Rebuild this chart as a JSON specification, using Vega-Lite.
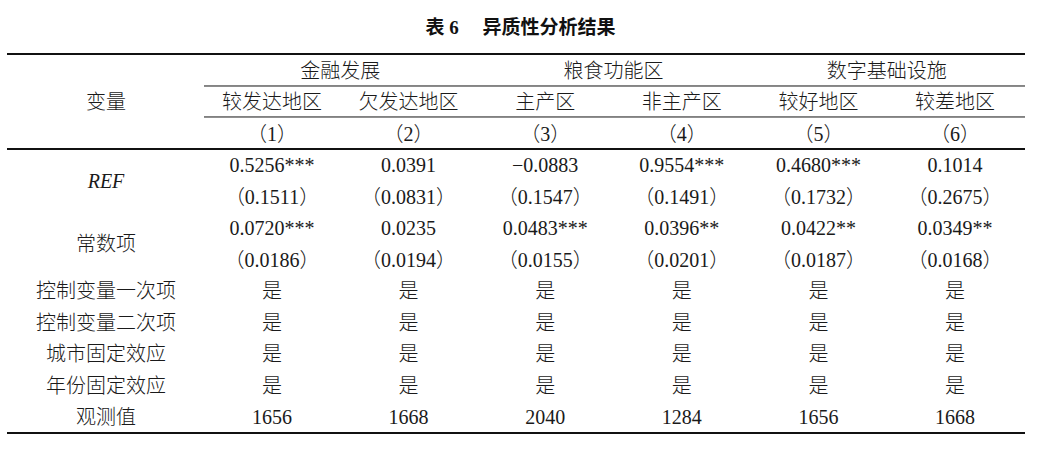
{
  "$schema": "https://vega.github.io/schema/vega-lite/v6.json",
  "width": 1053,
  "height": 463,
  "autosize": {"type": "fit", "contains": "padding"},
  "padding": 0,
  "background": "white",
  "config": {"view": {"stroke": null}},
  "datasets": {
    "cells": [
      {"r": -1.4, "c": 2.82, "t": "表 6　 异质性分析结果", "kind": "title"},
      {"r": 0, "c": 1.5, "t": "金融发展", "kind": "body"},
      {"r": 0, "c": 3.5, "t": "粮食功能区", "kind": "body"},
      {"r": 0, "c": 5.5, "t": "数字基础设施", "kind": "body"},
      {"r": 1, "c": 0, "t": "变量", "kind": "body"},
      {"r": 1, "c": 1, "t": "较发达地区", "kind": "body"},
      {"r": 1, "c": 2, "t": "欠发达地区", "kind": "body"},
      {"r": 1, "c": 3, "t": "主产区", "kind": "body"},
      {"r": 1, "c": 4, "t": "非主产区", "kind": "body"},
      {"r": 1, "c": 5, "t": "较好地区", "kind": "body"},
      {"r": 1, "c": 6, "t": "较差地区", "kind": "body"},
      {"r": 2, "c": 1, "t": "（1）", "kind": "body"},
      {"r": 2, "c": 2, "t": "（2）", "kind": "body"},
      {"r": 2, "c": 3, "t": "（3）", "kind": "body"},
      {"r": 2, "c": 4, "t": "（4）", "kind": "body"},
      {"r": 2, "c": 5, "t": "（5）", "kind": "body"},
      {"r": 2, "c": 6, "t": "（6）", "kind": "body"},
      {"r": 3.5, "c": 0, "t": "REF", "kind": "italic"},
      {"r": 3, "c": 1, "t": "0.5256***", "kind": "body"},
      {"r": 3, "c": 2, "t": "0.0391", "kind": "body"},
      {"r": 3, "c": 3, "t": "−0.0883", "kind": "body"},
      {"r": 3, "c": 4, "t": "0.9554***", "kind": "body"},
      {"r": 3, "c": 5, "t": "0.4680***", "kind": "body"},
      {"r": 3, "c": 6, "t": "0.1014", "kind": "body"},
      {"r": 4, "c": 1, "t": "（0.1511）", "kind": "body"},
      {"r": 4, "c": 2, "t": "（0.0831）", "kind": "body"},
      {"r": 4, "c": 3, "t": "（0.1547）", "kind": "body"},
      {"r": 4, "c": 4, "t": "（0.1491）", "kind": "body"},
      {"r": 4, "c": 5, "t": "（0.1732）", "kind": "body"},
      {"r": 4, "c": 6, "t": "（0.2675）", "kind": "body"},
      {"r": 5.5, "c": 0, "t": "常数项", "kind": "body"},
      {"r": 5, "c": 1, "t": "0.0720***", "kind": "body"},
      {"r": 5, "c": 2, "t": "0.0235", "kind": "body"},
      {"r": 5, "c": 3, "t": "0.0483***", "kind": "body"},
      {"r": 5, "c": 4, "t": "0.0396**", "kind": "body"},
      {"r": 5, "c": 5, "t": "0.0422**", "kind": "body"},
      {"r": 5, "c": 6, "t": "0.0349**", "kind": "body"},
      {"r": 6, "c": 1, "t": "（0.0186）", "kind": "body"},
      {"r": 6, "c": 2, "t": "（0.0194）", "kind": "body"},
      {"r": 6, "c": 3, "t": "（0.0155）", "kind": "body"},
      {"r": 6, "c": 4, "t": "（0.0201）", "kind": "body"},
      {"r": 6, "c": 5, "t": "（0.0187）", "kind": "body"},
      {"r": 6, "c": 6, "t": "（0.0168）", "kind": "body"},
      {"r": 7, "c": 0, "t": "控制变量一次项", "kind": "body"},
      {"r": 7, "c": 1, "t": "是", "kind": "body"},
      {"r": 7, "c": 2, "t": "是", "kind": "body"},
      {"r": 7, "c": 3, "t": "是", "kind": "body"},
      {"r": 7, "c": 4, "t": "是", "kind": "body"},
      {"r": 7, "c": 5, "t": "是", "kind": "body"},
      {"r": 7, "c": 6, "t": "是", "kind": "body"},
      {"r": 8, "c": 0, "t": "控制变量二次项", "kind": "body"},
      {"r": 8, "c": 1, "t": "是", "kind": "body"},
      {"r": 8, "c": 2, "t": "是", "kind": "body"},
      {"r": 8, "c": 3, "t": "是", "kind": "body"},
      {"r": 8, "c": 4, "t": "是", "kind": "body"},
      {"r": 8, "c": 5, "t": "是", "kind": "body"},
      {"r": 8, "c": 6, "t": "是", "kind": "body"},
      {"r": 9, "c": 0, "t": "城市固定效应", "kind": "body"},
      {"r": 9, "c": 1, "t": "是", "kind": "body"},
      {"r": 9, "c": 2, "t": "是", "kind": "body"},
      {"r": 9, "c": 3, "t": "是", "kind": "body"},
      {"r": 9, "c": 4, "t": "是", "kind": "body"},
      {"r": 9, "c": 5, "t": "是", "kind": "body"},
      {"r": 9, "c": 6, "t": "是", "kind": "body"},
      {"r": 10, "c": 0, "t": "年份固定效应", "kind": "body"},
      {"r": 10, "c": 1, "t": "是", "kind": "body"},
      {"r": 10, "c": 2, "t": "是", "kind": "body"},
      {"r": 10, "c": 3, "t": "是", "kind": "body"},
      {"r": 10, "c": 4, "t": "是", "kind": "body"},
      {"r": 10, "c": 5, "t": "是", "kind": "body"},
      {"r": 10, "c": 6, "t": "是", "kind": "body"},
      {"r": 11, "c": 0, "t": "观测值", "kind": "body"},
      {"r": 11, "c": 1, "t": "1656", "kind": "body"},
      {"r": 11, "c": 2, "t": "1668", "kind": "body"},
      {"r": 11, "c": 3, "t": "2040", "kind": "body"},
      {"r": 11, "c": 4, "t": "1284", "kind": "body"},
      {"r": 11, "c": 5, "t": "1656", "kind": "body"},
      {"r": 11, "c": 6, "t": "1668", "kind": "body"}
    ],
    "rules": [
      {"r": -0.57, "c1": -0.5, "c2": 6.5, "weight": "heavy"},
      {"r": 0.445, "c1": 0.5, "c2": 6.5, "weight": "light"},
      {"r": 1.43, "c1": 0.5, "c2": 6.5, "weight": "light"},
      {"r": 2.45, "c1": -0.5, "c2": 6.5, "weight": "heavy"},
      {"r": 11.48, "c1": -0.5, "c2": 6.5, "weight": "heavy"}
    ]
  },
  "layer": [
    {
      "data": {"name": "rules"},
      "mark": {"type": "rule", "color": "#111"},
      "encoding": {
        "x": {"field": "c1", "type": "quantitative", "axis": null,
          "scale": {"domain": [-0.5, 0, 0.5, 1, 6, 6.5], "range": [7, 106, 204, 272, 955, 1025], "nice": false, "zero": false}},
        "x2": {"field": "c2"},
        "y": {"field": "r", "type": "quantitative", "axis": null,
          "scale": {"domain": [0, 11], "range": [72, 418], "nice": false, "zero": false}},
        "strokeWidth": {"field": "weight", "type": "nominal", "legend": null,
          "scale": {"domain": ["heavy", "light"], "range": [2, 1]}}
      }
    },
    {
      "data": {"name": "cells"},
      "transform": [{"filter": "datum.kind === 'body'"}],
      "mark": {"type": "text", "align": "center", "baseline": "middle", "fontSize": 20, "fontWeight": 300,
        "font": "'Liberation Serif', 'Noto Sans CJK SC', serif", "color": "#1a1a1a"},
      "encoding": {
        "x": {"field": "c", "type": "quantitative", "axis": null,
          "scale": {"domain": [-0.5, 0, 0.5, 1, 6, 6.5], "range": [7, 106, 204, 272, 955, 1025], "nice": false, "zero": false}},
        "y": {"field": "r", "type": "quantitative", "axis": null,
          "scale": {"domain": [0, 11], "range": [72, 418], "nice": false, "zero": false}},
        "text": {"field": "t"}
      }
    },
    {
      "data": {"name": "cells"},
      "transform": [{"filter": "datum.kind === 'italic'"}],
      "mark": {"type": "text", "align": "center", "baseline": "middle", "fontSize": 20, "fontStyle": "italic",
        "font": "'Liberation Serif', serif", "color": "#1a1a1a"},
      "encoding": {
        "x": {"field": "c", "type": "quantitative"},
        "y": {"field": "r", "type": "quantitative"},
        "text": {"field": "t"}
      }
    },
    {
      "data": {"name": "cells"},
      "transform": [{"filter": "datum.kind === 'title'"}],
      "mark": {"type": "text", "align": "center", "baseline": "middle", "fontSize": 19, "fontWeight": "bold",
        "font": "'Liberation Serif', 'Noto Sans CJK SC', sans-serif", "color": "#111"},
      "encoding": {
        "x": {"field": "c", "type": "quantitative"},
        "y": {"field": "r", "type": "quantitative"},
        "text": {"field": "t"}
      }
    }
  ]
}
